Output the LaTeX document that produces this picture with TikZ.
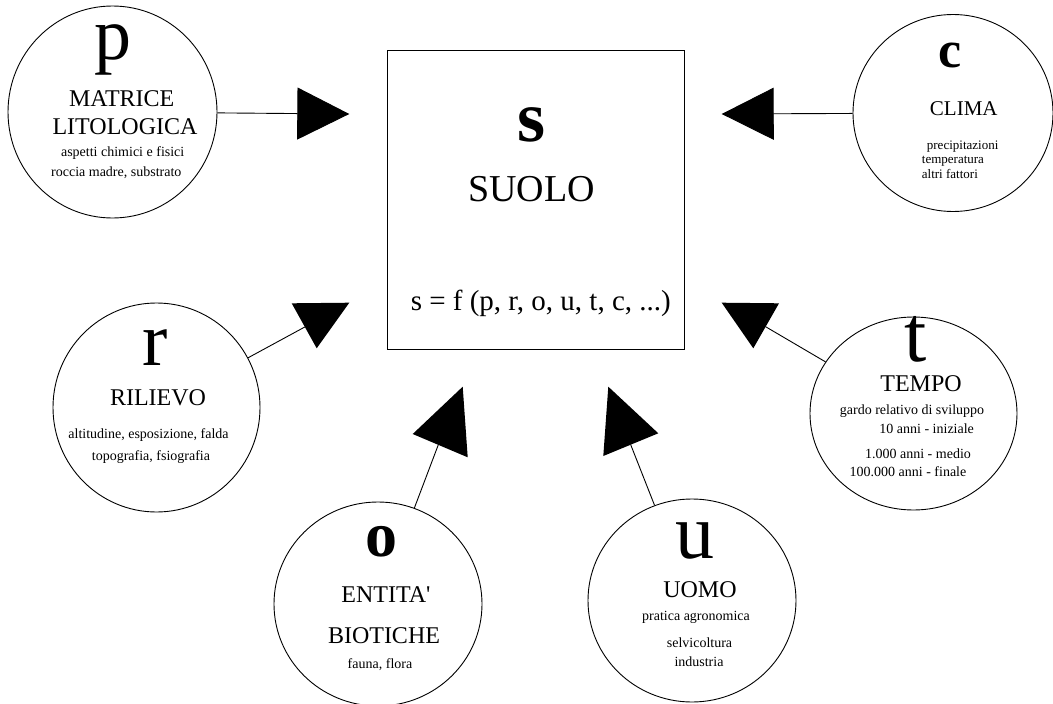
\documentclass[tikz,border=0pt]{standalone}
\usepackage{fontspec}
\setmainfont{Liberation Serif}[Ligatures=TeXOff]
\usetikzlibrary{arrows.meta,shapes.geometric}
\begin{document}
\begin{tikzpicture}[x=1pt,y=-1pt,
  factor/.style={draw, ellipse, inner sep=0pt, line width=0.9pt},
  soilbox/.style={draw, rectangle, inner sep=0pt, line width=0.9pt},
  letter/.style={anchor=base, inner sep=0pt, text height=0.6em, text depth=0.22em, font=\fontsize{#1}{#1}\selectfont},
  bletter/.style={anchor=base, inner sep=0pt, text height=0.6em, text depth=0.22em, font=\fontsize{#1}{#1}\selectfont\bfseries},
  title/.style={anchor=base, inner sep=0pt, font=\fontsize{#1}{#1}\selectfont},
  title/.default=24,
  small/.style={anchor=base, inner sep=0pt, font=\fontsize{#1}{#1}\selectfont},
  small/.default=14,
  smallw/.style={anchor=base west, inner sep=0pt, font=\fontsize{13}{13}\selectfont},
  link/.style={line width=0.9pt},
  straight/.style={line width=0.9pt, -{Triangle[length=52pt,width=52pt]}},
  head/.style={fill=black}]
\useasboundingbox (0,0) rectangle (1053,704);

% central box
\node[soilbox, minimum width=297pt, minimum height=299pt] (s) at (535.5,199.5) {};
\node[bletter=72] (sl) at (531.7,141.7) {s};
\node[title=38] (st) at (531.7,201.7) {SUOLO};
\node[title=29] (sf) at (540.8,310) {s = f (p, r, o, u, t, c, ...)};

% p
\node[factor, minimum width=209pt, minimum height=212pt] (p) at (112.5,112) {};
\node[letter=74] (pl) at (113,59) {p};
\node[title] (pt1) at (121.7,106) {MATRICE};
\node[title] (pt2) at (125,134) {LITOLOGICA};
\node[small] (pd1) at (122.7,156.5) {aspetti chimici e fisici};
\node[small] (pd2) at (116.3,176) {roccia madre, substrato};

% c
\node[factor, minimum width=200pt, minimum height=197pt] (c) at (953,113) {};
\node[bletter=52] (cl) at (950,67) {c};
\node[title=21] (ct) at (963.8,115) {CLIMA};
\node[smallw] (cd1) at (926.7,149.3) {precipitazioni};
\node[smallw] (cd2) at (921.7,163.3) {temperatura};
\node[smallw] (cd3) at (921.7,178.3) {altri fattori};

% r
\node[factor, minimum width=207pt, minimum height=209pt] (r) at (156.5,407.5) {};
\node[letter=76] (rl) at (155,365) {r};
\node[title] (rt) at (158,405) {RILIEVO};
\node[small] (rd1) at (148.5,438) {altitudine, esposizione, falda};
\node[small] (rd2) at (151,460) {topografia, fsiografia};

% t
\node[factor, minimum width=207pt, minimum height=193pt] (t) at (913.5,413.5) {};
\node[letter=80] (tl) at (916,361.7) {t};
\node[title] (tt) at (921,391.7) {TEMPO};
\node[small] (td1) at (912,414) {gardo relativo di sviluppo};
\node[small] (td2) at (926.7,433) {10 anni - iniziale};
\node[small] (td3) at (918,458) {1.000 anni - medio};
\node[small] (td4) at (908,476) {100.000 anni - finale};

% o
\node[factor, minimum width=208pt, minimum height=204pt] (o) at (378,604) {};
\node[bletter=64] (ol) at (381.7,556) {o};
\node[title] (ot1) at (386,602) {ENTITA'};
\node[title] (ot2) at (384,643) {BIOTICHE};
\node[small] (od1) at (380,668) {fauna, flora};

% u
\node[factor, minimum width=208pt, minimum height=203pt] (u) at (692,600.5) {};
\node[letter=78] (ul) at (694.5,558) {u};
\node[title] (ut) at (700,597) {UOMO};
\node[small] (ud1) at (696,620) {pratica agronomica};
\node[small] (ud2) at (699.5,647) {selvicoltura};
\node[small] (ud3) at (699,666.7) {industria};

% connectors
\coordinate (ptip) at (349.3,114);
\coordinate (ctip) at (721.7,114);
\draw[straight] (p) -- (ptip);
\draw[straight] (c) -- (ctip);

\coordinate (rend) at (304.8,327);
\coordinate (tend) at (765.6,326.7);
\coordinate (oend) at (438.3,444.8);
\coordinate (uend) at (630.7,444.7);
\draw[link] (r) -- (rend);
\draw[link] (t) -- (tend);
\draw[link] (o) -- (oend);
\draw[link] (u) -- (uend);

% arrowheads (as drawn in the original)
\fill[head] (291.7,303.3) -- (349.3,302.7) -- (316.7,348.3) -- cycle;
\fill[head] (721.7,302.7) -- (779,303.3) -- (753.3,348.3) -- cycle;
\fill[head] (412.7,434) -- (462.7,386.7) -- (467.7,457.3) -- cycle;
\fill[head] (608.3,386.7) -- (658.3,433.3) -- (603.3,456) -- cycle;
\end{tikzpicture}
\end{document}
